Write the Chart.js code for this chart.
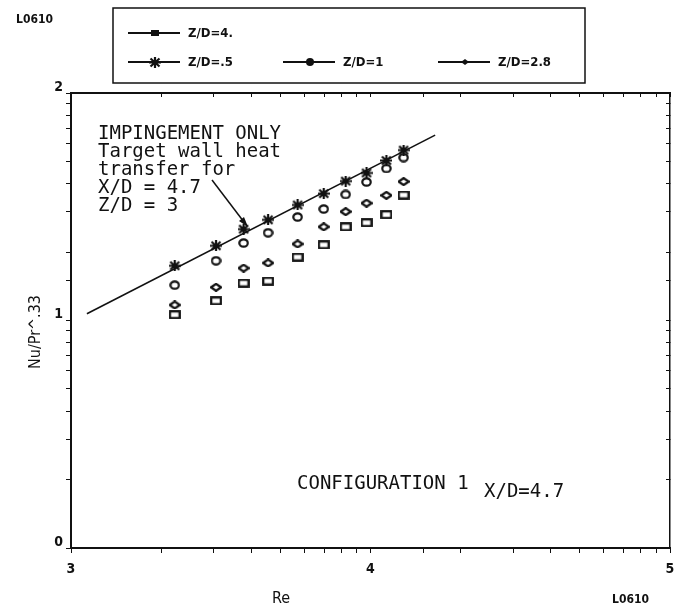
<!DOCTYPE html>
<html>
<head>
<meta charset="utf-8">
<script src="https://cdn.jsdelivr.net/npm/chart.js@4.4.1/dist/chart.umd.min.js"></script>
<style>
  html, body { margin: 0; padding: 0; background: #fff; }
</style>
</head>
<body>
<canvas id="nuChart" width="677" height="608"></canvas>
<script>
// Reynolds numbers of the measured stations (log axis, labelled by exponent)
const reynolds = [2220, 3050, 3770, 4550, 5710, 6980, 8260, 9700, 11300, 12900];

// Nu/Pr^.33 for each jet-to-wall spacing
const nuZd05 = [17.4, 21.3, 25.2, 27.7, 32.2, 36.1, 41.0, 44.5, 50.5, 56.1];
const nuZd1  = [14.3, 18.3, 21.9, 24.3, 28.5, 30.9, 35.8, 40.6, 46.6, 52.0];
const nuZd28 = [11.7, 14.0, 17.0, 17.9, 21.7, 25.8, 30.1, 32.8, 35.5, 40.8];
const nuZd4  = [10.6, 12.2, 14.6, 14.9, 19.0, 21.5, 25.8, 26.9, 29.2, 35.6];

// impingement-only correlation, X/D = 4.7, Z/D = 3
const fitRe = [1130, 16440];
const fitNu = [10.7, 65.3];

// decade labels (log10 of the value)
const xTickLabels = ['3', '4', '5'];
const yTickLabels = ['0', '1', '2'];

const INK = '#111';
const MONO = '"DejaVu Sans Mono", "Liberation Mono", monospace';
const NARROW = '"Liberation Sans Narrow", "DejaVu Sans Condensed", "DejaVu Sans", sans-serif';

// small canvases used as point styles
function marker(w, h, draw) {
    const c = document.createElement('canvas');
    c.width = w; c.height = h;
    const g = c.getContext('2d');
    g.strokeStyle = INK;
    g.fillStyle = INK;
    g.lineWidth = 2.2;
    draw(g, w, h);
    return c;
}

const squareMark = marker(12, 9, (g, w, h) => {
    g.strokeRect(1.2, 1.2, w - 2.4, h - 2.4);
});
const circleMark = marker(11, 10, (g, w, h) => {
    g.beginPath();
    g.ellipse(w / 2, h / 2, w / 2 - 1.3, h / 2 - 1.3, 0, 0, Math.PI * 2);
    g.stroke();
});
const diamondMark = marker(12, 9, (g, w, h) => {
    g.beginPath();
    g.moveTo(1, h / 2); g.lineTo(w / 2, 1); g.lineTo(w - 1, h / 2); g.lineTo(w / 2, h - 1);
    g.closePath();
    g.stroke();
});
const starMark = marker(12, 11, (g, w, h) => {
    g.beginPath();
    g.moveTo(0, h / 2); g.lineTo(w, h / 2);
    g.moveTo(w / 2, 0); g.lineTo(w / 2, h);
    g.moveTo(1.5, 1.5); g.lineTo(w - 1.5, h - 1.5);
    g.moveTo(w - 1.5, 1.5); g.lineTo(1.5, h - 1.5);
    g.stroke();
});

function pts(ys) {
    return reynolds.map((r, i) => ({ x: r, y: ys[i] }));
}

function decadeLabel(labels, first) {
    return function (v) {
        const e = Math.log10(v);
        if (Math.abs(e - Math.round(e)) > 1e-6) return '';
        return labels[Math.round(e) - first] || '';
    };
}

// legend box, axis titles and the text notes
const notes = {
    id: 'notes',
    afterDraw(chart) {
        const ctx = chart.ctx;
        ctx.save();
        ctx.fillStyle = INK;
        ctx.strokeStyle = INK;

        // legend
        ctx.lineWidth = 1.5;
        ctx.strokeRect(113, 8, 472, 75);
        const items = [
            { x: 128, y: 33, label: 'Z/D=4.', draw: (x, y) => ctx.fillRect(x - 4, y - 3, 8, 6) },
            { x: 128, y: 62, label: 'Z/D=.5', draw: (x, y) => ctx.drawImage(starMark, x - 6, y - 5) },
            { x: 283, y: 62, label: 'Z/D=1', draw: (x, y) => { ctx.beginPath(); ctx.arc(x, y, 4, 0, Math.PI * 2); ctx.fill(); } },
            { x: 438, y: 62, label: 'Z/D=2.8', draw: (x, y) => { ctx.beginPath(); ctx.moveTo(x - 4, y); ctx.lineTo(x, y - 3); ctx.lineTo(x + 4, y); ctx.lineTo(x, y + 3); ctx.fill(); } }
        ];
        ctx.font = 'bold 13px ' + NARROW;
        ctx.textBaseline = 'middle';
        ctx.textAlign = 'left';
        items.forEach(it => {
            ctx.lineWidth = 2;
            ctx.beginPath();
            ctx.moveTo(it.x, it.y);
            ctx.lineTo(it.x + 52, it.y);
            ctx.stroke();
            it.draw(it.x + 27, it.y);
            ctx.fillText(it.label, it.x + 60, it.y + 1);
        });

        // figure codes
        ctx.font = 'bold 12px ' + NARROW;
        ctx.fillText('L0610', 16, 20);
        ctx.fillText('L0610', 612, 600);

        // axis titles
        ctx.font = '16px ' + NARROW;
        ctx.textAlign = 'center';
        ctx.fillText('Re', 281, 599);
        ctx.save();
        ctx.translate(36, 332);
        ctx.rotate(-Math.PI / 2);
        ctx.fillText('Nu/Pr^.33', 0, 0);
        ctx.restore();

        // correlation note with its arrow
        ctx.font = '19px ' + MONO;
        ctx.textAlign = 'left';
        const lines = ['IMPINGEMENT ONLY', 'Target wall heat', 'transfer for', 'X/D = 4.7', 'Z/D = 3'];
        lines.forEach((t, i) => ctx.fillText(t, 98, 134 + i * 18));
        ctx.lineWidth = 1.5;
        ctx.beginPath();
        ctx.moveTo(212, 180);
        ctx.lineTo(247, 226);
        ctx.stroke();
        ctx.beginPath();
        ctx.moveTo(248, 227);
        ctx.lineTo(239, 221);
        ctx.lineTo(244, 217);
        ctx.closePath();
        ctx.fill();

        ctx.fillText('CONFIGURATION 1', 297, 484);
        ctx.fillText('X/D=4.7', 484, 492);
        ctx.restore();
    }
};

const tickFont = { family: NARROW, size: 14, weight: 'bold' };

new Chart(document.getElementById('nuChart'), {
    type: 'scatter',
    data: {
        datasets: [
            {
                label: 'Impingement only',
                data: fitRe.map((r, i) => ({ x: r, y: fitNu[i] })),
                showLine: true,
                borderColor: INK,
                borderWidth: 1.6,
                pointRadius: 0
            },
            { label: 'Z/D=.5', data: pts(nuZd05), pointStyle: starMark, pointRadius: 6 },
            { label: 'Z/D=1', data: pts(nuZd1), pointStyle: circleMark, pointRadius: 6 },
            { label: 'Z/D=2.8', data: pts(nuZd28), pointStyle: diamondMark, pointRadius: 6 },
            { label: 'Z/D=4.', data: pts(nuZd4), pointStyle: squareMark, pointRadius: 6 }
        ]
    },
    options: {
        responsive: false,
        animation: false,
        layout: { padding: { top: 93, right: 3, left: 0, bottom: 0 } },
        plugins: { legend: { display: false }, tooltip: { enabled: false } },
        scales: {
            x: {
                type: 'logarithmic', position: 'bottom', min: 1000, max: 100000,
                border: { display: true, color: INK, width: 2 },
                grid: { drawOnChartArea: false, color: INK, tickLength: 5 },
                ticks: { autoSkip: false, maxRotation: 0, color: INK, font: tickFont, padding: 8,
                         callback: decadeLabel(xTickLabels, 3) },
                afterFit: s => { s.height = 60; s.paddingLeft = 0; s.paddingRight = 3; }
            },
            y: {
                type: 'logarithmic', position: 'left', min: 1, max: 100,
                border: { display: true, color: INK, width: 2 },
                grid: { drawOnChartArea: false, color: INK, tickLength: 5 },
                ticks: { autoSkip: false, color: INK, font: tickFont, padding: 3, labelOffset: -6,
                         callback: decadeLabel(yTickLabels, 0) },
                afterFit: s => { s.width = 71; s.paddingTop = 0; s.paddingBottom = 0; }
            },
            x2: {
                type: 'logarithmic', position: 'top', min: 1000, max: 100000,
                border: { display: true, color: INK, width: 2 },
                grid: { drawOnChartArea: false, color: INK, tickLength: -4 },
                ticks: { autoSkip: false, display: false },
                afterFit: s => { s.height = 0; s.paddingLeft = 0; s.paddingRight = 0; }
            },
            y2: {
                type: 'logarithmic', position: 'right', min: 1, max: 100,
                border: { display: true, color: INK, width: 1.5 },
                grid: { drawOnChartArea: false, color: INK, tickLength: -4 },
                ticks: { autoSkip: false, display: false },
                afterFit: s => { s.width = 0; }
            }
        }
    },
    plugins: [notes]
});
</script>
</body>
</html>
